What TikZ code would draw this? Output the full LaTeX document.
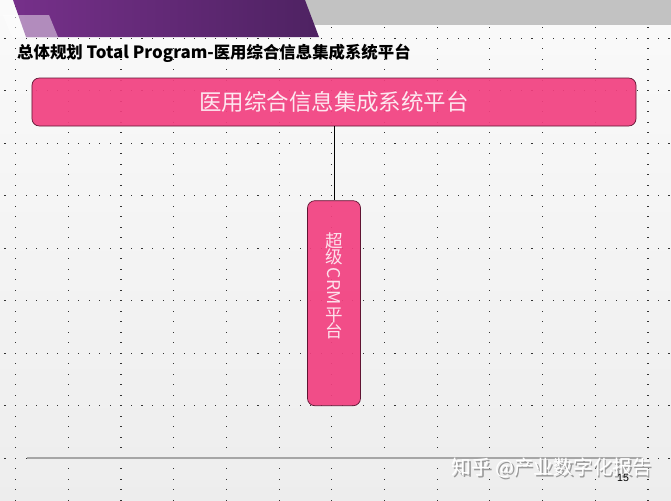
\documentclass[tikz,border=0pt]{standalone}
\usepackage{fontspec}
\setmainfont{Liberation Sans}
\newfontfamily\cjk{Noto Sans CJK SC}
\usetikzlibrary{positioning}
\definecolor{boxpink}{RGB}{242,64,128}
\definecolor{boxedge}{RGB}{95,20,50}
\definecolor{bandpurple}{RGB}{118,48,138}
\definecolor{banddark}{RGB}{78,34,98}

\begin{document}
\begin{tikzpicture}[x=0.03cm, y=-0.03cm,
    pinkbox/.style={draw=boxedge, line width=0.6pt, fill=boxpink, fill opacity=0.92,
      text opacity=1, rounded corners=0.22cm, text=white!88!boxpink, inner sep=0pt},
    griddot/.style={fill=black!80}]
  \useasboundingbox (0,0) rectangle (671,500);
  \shade[top color=white!98!black, bottom color=black!7] (0,0) rectangle (671,500);
  % dotted guides
  \foreach \i in {0,...,12}
    \foreach \j in {-3,...,44}
      \fill[griddot] ({15+52.7*\i},{37.5+10.5*\j}) rectangle ++(1.1,1.1);
  \foreach \k in {0,...,8}
    \foreach \m in {-1,...,62}
      \fill[griddot] ({15+10.54*\m},{37.5+52.5*\k}) rectangle ++(1.1,1.1);

  % banner
  \fill[black!24] (300,0) rectangle (671,25);
  \shade[left color=bandpurple, right color=banddark]
    (13,0) -- (305,0) -- (319,37) -- (26,37) -- cycle;
  \fill[white, opacity=0.45] (3,15) -- (49,15) -- (58,37) -- (12,37) -- cycle;

  \node[anchor=west, inner sep=0pt, font=\cjk\bfseries\fontsize{14}{16}\selectfont] (title) at (17,53)
    {总体规划 {\fontsize{14.4}{16}\selectfont Total Program-}医用综合信息集成系统平台};

  \node[pinkbox, minimum width=18.12cm, minimum height=1.44cm,
    font=\cjk\fontsize{19.2}{22}\selectfont] (platform) at (334,102) {医用综合信息集成系统平台};
  \node[pinkbox, minimum width=1.59cm, minimum height=6.15cm, below=2.22cm of platform] (crm) {};
  \node[rotate=-90, anchor=west, inner sep=0pt, text=white!85!boxpink,
    font=\cjk\fontsize{15}{17}\selectfont] (crmtext) at ([yshift=-0.96cm]crm.north)
    {\raisebox{-0.14em}{\rotatebox{90}{超}}\raisebox{-0.14em}{\rotatebox{90}{级}}\,CRM\,\raisebox{-0.14em}{\rotatebox{90}{平}}\raisebox{-0.14em}{\rotatebox{90}{台}}};
  \draw[line width=0.8pt] (platform.south) -- (crm.north);

  % footer
  \draw[black!35, line width=1.6pt] (27,458) -- (643,458);
  \node[text=black!40, inner sep=0pt, font=\cjk\fontsize{16.8}{18}\selectfont] (watermarkshadow)
    at (553.5,469.5) {知乎 @产业数字化报告};
  \node[text=white, inner sep=0pt, font=\cjk\fontsize{16.8}{18}\selectfont] (watermark)
    at (552,468) {知乎 @产业数字化报告};
  \node[inner sep=0pt, font=\fontsize{9}{10}\selectfont] (pagenum) at (623,478) {15};
\end{tikzpicture}
\end{document}
